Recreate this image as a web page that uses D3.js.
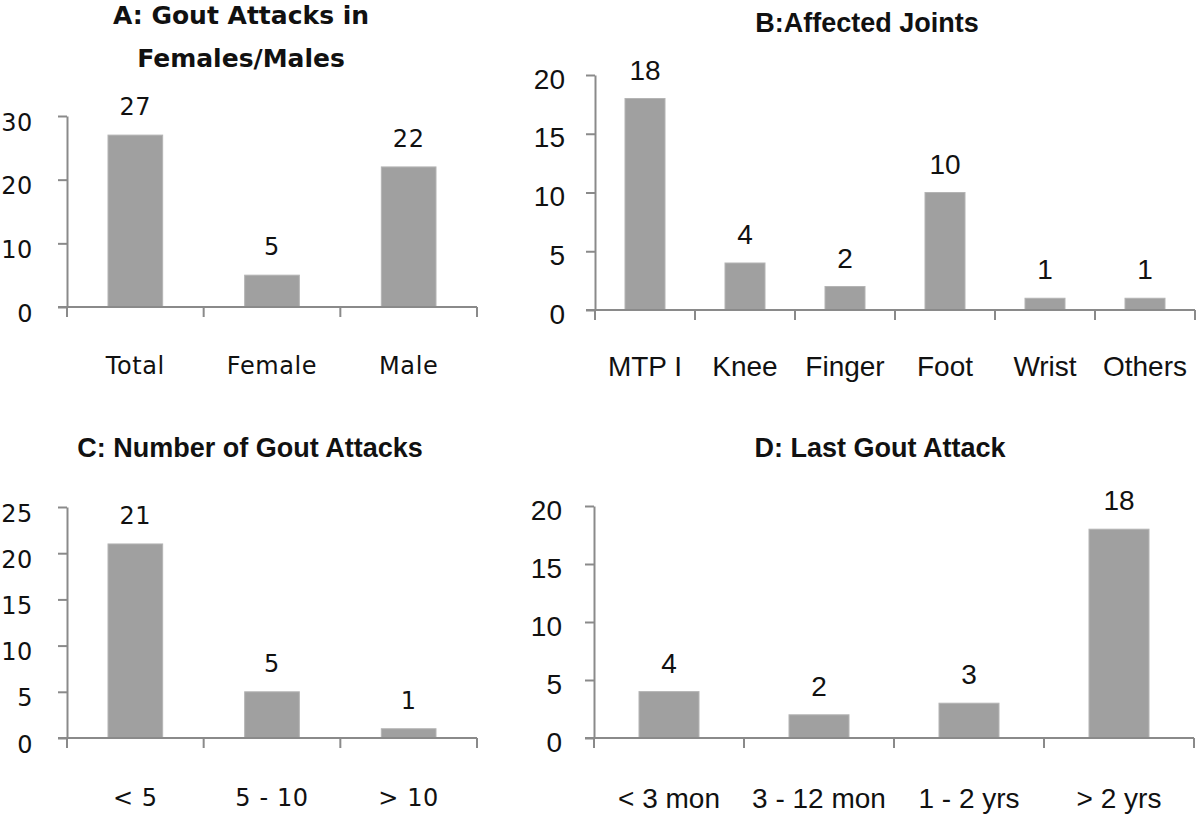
<!DOCTYPE html>
<html>
<head>
<meta charset="utf-8">
<script src="https://cdn.jsdelivr.net/npm/d3@7"></script>
<style>
  html, body { margin: 0; padding: 0; background: #fff; }
  svg { display: block; }
</style>
</head>
<body>
<svg id="chart" width="1200" height="817"></svg>
<script>
// ---- Data ----
const catsA = ["Total", "Female", "Male"];
const valsA = [27, 5, 22];
const ticksA = [0, 10, 20, 30];

const catsB = ["MTP I", "Knee", "Finger", "Foot", "Wrist", "Others"];
const valsB = [18, 4, 2, 10, 1, 1];
const ticksB = [0, 5, 10, 15, 20];

const catsC = ["< 5", "5 - 10", "> 10"];
const valsC = [21, 5, 1];
const ticksC = [0, 5, 10, 15, 20, 25];

const catsD = ["< 3 mon", "3 - 12 mon", "1 - 2 yrs", "> 2 yrs"];
const valsD = [4, 2, 3, 18];
const ticksD = [0, 5, 10, 15, 20];

const titleA = ["A: Gout Attacks in", "Females/Males"];
const titleB = ["B:Affected Joints"];
const titleC = ["C: Number of Gout Attacks"];
const titleD = ["D: Last Gout Attack"];

// ---- Styles ----
const wideStyle = { font: "DejaVu Sans", size: 24, ls: 0.6, titleFont: "DejaVu Sans", titleSize: 25,
                    tickDy: 14, valDy: -20, catDy: 9, lineH: 43 };
const tallStyle = { font: "Liberation Sans", size: 28, ls: 0, titleFont: "Liberation Sans", titleSize: 27,
                    tickDy: 13, valDy: -19, catDy: 10, lineH: 40 };

const panels = [
  { cats: catsA, vals: valsA, ticks: ticksA, title: titleA, x0: 67, x1: 477, yTop: 116, y0: 307,
    labelGap: 34, catY: 365, titleX: 241, titleY: 24, st: wideStyle, textSt: wideStyle },
  { cats: catsB, vals: valsB, ticks: ticksB, title: titleB, x0: 595, x1: 1195, yTop: 75, y0: 310,
    labelGap: 30, catY: 366, titleX: 867, titleY: 32, st: tallStyle, textSt: tallStyle },
  { cats: catsC, vals: valsC, ticks: ticksC, title: titleC, x0: 67, x1: 477, yTop: 507, y0: 738,
    labelGap: 34, catY: 797, titleX: 250, titleY: 457, st: tallStyle, textSt: wideStyle },
  { cats: catsD, vals: valsD, ticks: ticksD, title: titleD, x0: 594, x1: 1194, yTop: 506, y0: 738,
    labelGap: 32, catY: 798, titleX: 880, titleY: 457, st: tallStyle, textSt: tallStyle }
];

const svg = d3.select("#chart");
const axisColor = "#8a8a8a";
const barColor = "#a0a0a0";

panels.forEach(p => {
  const ts = p.textSt;
  const g = svg.append("g");

  const x = d3.scaleBand().domain(p.cats).range([p.x0, p.x1]).paddingInner(0).paddingOuter(0);
  const y = d3.scaleLinear().domain([0, d3.max(p.ticks)]).range([p.y0, p.yTop]);

  // Bars
  const bw = x.bandwidth() * 0.4;
  g.selectAll("rect.bar").data(p.vals).join("rect")
    .attr("class", "bar")
    .attr("x", (d, i) => x(p.cats[i]) + (x.bandwidth() - bw) / 2)
    .attr("y", d => y(d))
    .attr("width", bw)
    .attr("height", d => y(0) - y(d))
    .attr("fill", barColor)
    .attr("stroke", "#b4b4b4")
    .attr("stroke-width", 1);

  // Value labels
  g.selectAll("text.val").data(p.vals).join("text")
    .attr("class", "val")
    .attr("x", (d, i) => x(p.cats[i]) + x.bandwidth() / 2)
    .attr("y", d => y(d) + ts.valDy)
    .attr("text-anchor", "middle")
    .attr("font-family", ts.font)
    .attr("font-size", ts.size)
    .attr("letter-spacing", ts.ls)
    .attr("fill", "#111")
    .text(d => d);

  // Y axis
  const yAxis = d3.axisLeft(y).tickValues(p.ticks).tickSize(9).tickSizeOuter(0).tickFormat(d3.format("d"));
  const ya = g.append("g").attr("transform", `translate(${p.x0},0)`).call(yAxis);
  ya.attr("font-size", null).attr("font-family", null);
  ya.select(".domain").attr("stroke", axisColor).attr("stroke-width", 2);
  ya.selectAll(".tick line").attr("stroke", axisColor).attr("stroke-width", 2);
  ya.selectAll(".tick text")
    .attr("x", -p.labelGap)
    .attr("dy", null)
    .attr("y", ts.tickDy)
    .attr("font-family", ts.font)
    .attr("font-size", ts.size)
    .attr("letter-spacing", ts.ls)
    .attr("fill", "#111");

  // X axis line + boundary ticks
  g.append("line")
    .attr("x1", p.x0 - 9).attr("x2", p.x1)
    .attr("y1", y(0)).attr("y2", y(0))
    .attr("stroke", axisColor).attr("stroke-width", 2);
  const bounds = p.cats.map(c => x(c)).concat([x.range()[1]]);
  g.selectAll("line.xt").data(bounds).join("line")
    .attr("class", "xt")
    .attr("x1", d => d).attr("x2", d => d)
    .attr("y1", y(0)).attr("y2", y(0) + 10)
    .attr("stroke", axisColor).attr("stroke-width", 2);

  // Category labels
  g.selectAll("text.cat").data(p.cats).join("text")
    .attr("class", "cat")
    .attr("x", d => x(d) + x.bandwidth() / 2)
    .attr("y", p.catY + ts.catDy)
    .attr("text-anchor", "middle")
    .attr("font-family", ts.font)
    .attr("font-size", ts.size)
    .attr("letter-spacing", ts.ls)
    .attr("fill", "#111")
    .text(d => d);

  // Title
  const tst = p.st;
  g.selectAll("text.title").data(p.title).join("text")
    .attr("class", "title")
    .attr("x", p.titleX)
    .attr("y", (d, i) => p.titleY + i * tst.lineH)
    .attr("text-anchor", "middle")
    .attr("font-family", tst.titleFont)
    .attr("font-size", tst.titleSize)
    .attr("font-weight", "bold")
    .attr("fill", "#111")
    .text(d => d);
});
</script>
</body>
</html>
